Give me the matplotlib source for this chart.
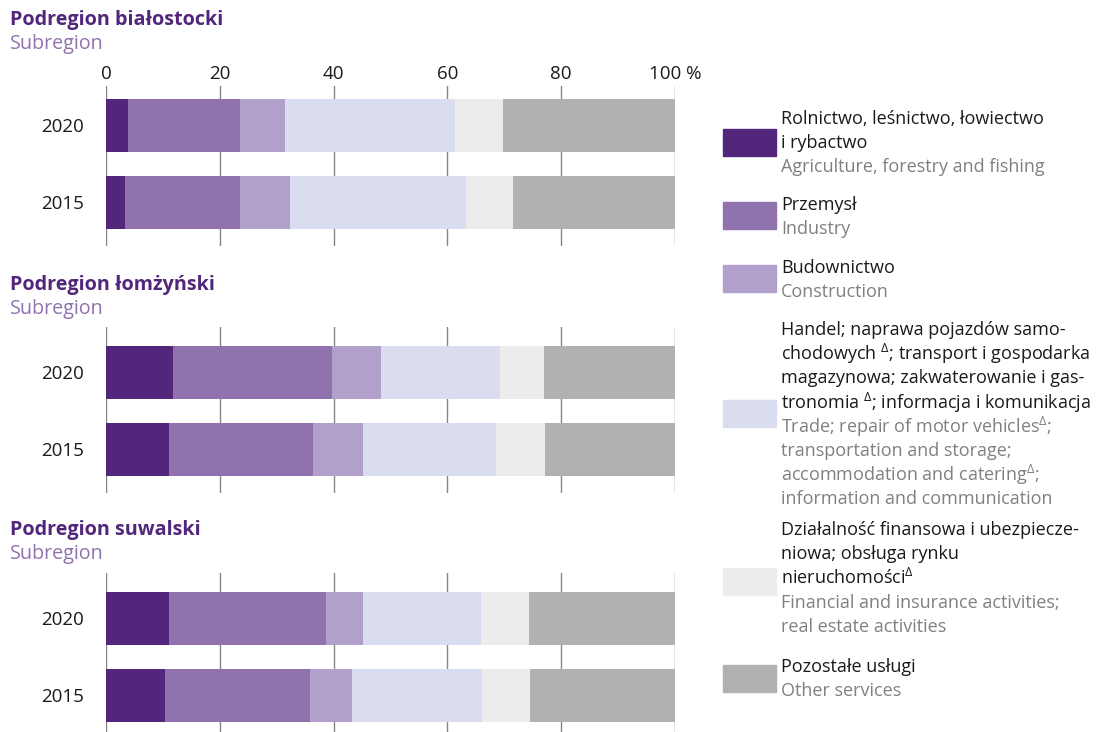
import matplotlib
matplotlib.use("Agg")
import matplotlib.pyplot as plt
import numpy as np

plt.rcParams['font.family'] = ['Open Sans', 'DejaVu Sans']
plt.rcParams['mathtext.fontset'] = 'custom'
plt.rcParams['mathtext.rm'] = 'Open Sans'
plt.rcParams['mathtext.default'] = 'rm'

# dane: udzial sekcji w wartosci dodanej brutto (%)
years = ["2015", "2020"]
regions = ["Podregion białostocki", "Podregion łomżyński", "Podregion suwalski"]
agri = [[3.4, 3.8], [11.0, 11.7], [10.3, 11.1]]
industry = [[20.1, 19.8], [25.3, 28.1], [25.6, 27.6]]
construction = [[8.9, 7.8], [8.8, 8.6], [7.3, 6.4]]
trade = [[30.8, 29.9], [23.5, 20.9], [22.8, 20.8]]
finance = [[8.3, 8.4], [8.5, 7.6], [8.6, 8.5]]
other = [[28.5, 30.3], [22.9, 23.1], [25.4, 25.6]]

colors = ["#52267b", "#8f72ae", "#b1a0cc", "#dadcf0", "#ececec", "#b1b1b1"]
title_col = "#52267b"
sub_col = "#8f72ae"
txt_col = "#1a1a1a"
en_col = "#808080"

W, H = 1105, 732
fig = plt.figure(figsize=(W / 100, H / 100), dpi=100)

# polozenie paneli w px: (gora osi, wysokosc, gorny margines w jednostkach)
panels = [(86, 160, 1.513), (327, 166, 1.59), (573, 166, 1.59)]
title_y = [20, 285, 530]

for i, (top, ax_h, ytop) in enumerate(panels):
    ax = fig.add_axes([106 / W, 1 - (top + ax_h) / H, 569 / W, ax_h / H])
    series = [agri[i], industry[i], construction[i], trade[i], finance[i], other[i]]
    left = np.zeros(2)
    for vals, c in zip(series, colors):
        ax.barh([0, 1], vals, left=left, height=0.68, color=c, zorder=2)
        left += np.array(vals)
    ax.set_xlim(0, 100)
    ax.set_ylim(-0.565, ytop)
    ax.set_xticks([0, 20, 40, 60, 80, 100])
    ax.xaxis.grid(True, color="#858585", lw=1.0, zorder=0)
    ax.set_yticks([0, 1])
    ax.set_yticklabels(years, fontsize=13.5, color=txt_col)
    ax.tick_params(axis="y", length=0, pad=16)
    if i == 0:
        ax.xaxis.tick_top()
        ax.set_xticklabels(["0", "20", "40", "60", "80", "100 %"], fontsize=13.5, color=txt_col)
        ax.tick_params(axis="x", length=0, pad=2)
    else:
        ax.tick_params(axis="x", length=0, labeltop=False, labelbottom=False)
    for s in ax.spines.values():
        s.set_visible(False)
    fig.text(10 / W, 1 - title_y[i] / H, regions[i], fontsize=14.2, fontweight="bold",
             color=title_col, va="center", ha="left")
    fig.text(10 / W, 1 - (title_y[i] + 24) / H, "Subregion", fontsize=14.2,
             color=sub_col, va="center", ha="left")

# legenda
D = r"$^{\Delta}$"
legend = [
    (142, ["Rolnictwo, leśnictwo, łowiectwo", "i rybactwo"],
     ["Agriculture, forestry and fishing"], 119),
    (215, ["Przemysł"], ["Industry"], 205),
    (278, ["Budownictwo"], ["Construction"], 268),
    (413, ["Handel; naprawa pojazdów samo-", "chodowych " + D + "; transport i gospodarka",
           "magazynowa; zakwaterowanie i gas-", "tronomia " + D + "; informacja i komunikacja"],
     ["Trade; repair of motor vehicles" + D + ";", "transportation and storage;",
      "accommodation and catering" + D + ";", "information and communication"], 330),
    (581, ["Działalność finansowa i ubezpiecze-", "niowa; obsługa rynku", "nieruchomości" + D],
     ["Financial and insurance activities;", "real estate activities"], 530),
    (678, ["Pozostałe usługi"], ["Other services"], 667),
]
step = 24.2
for (pc, pl, en, y0), c in zip(legend, colors):
    fig.patches.append(plt.Rectangle((723 / W, 1 - (pc + 13.5) / H), 53 / W, 27 / H,
                                     transform=fig.transFigure, color=c))
    y = y0
    for line in pl:
        fig.text(781 / W, 1 - y / H, line, fontsize=13, color=txt_col, va="center", ha="left")
        y += step
    for line in en:
        fig.text(781 / W, 1 - y / H, line, fontsize=13, color=en_col, va="center", ha="left")
        y += step

fig.savefig("out.png", dpi=100)
